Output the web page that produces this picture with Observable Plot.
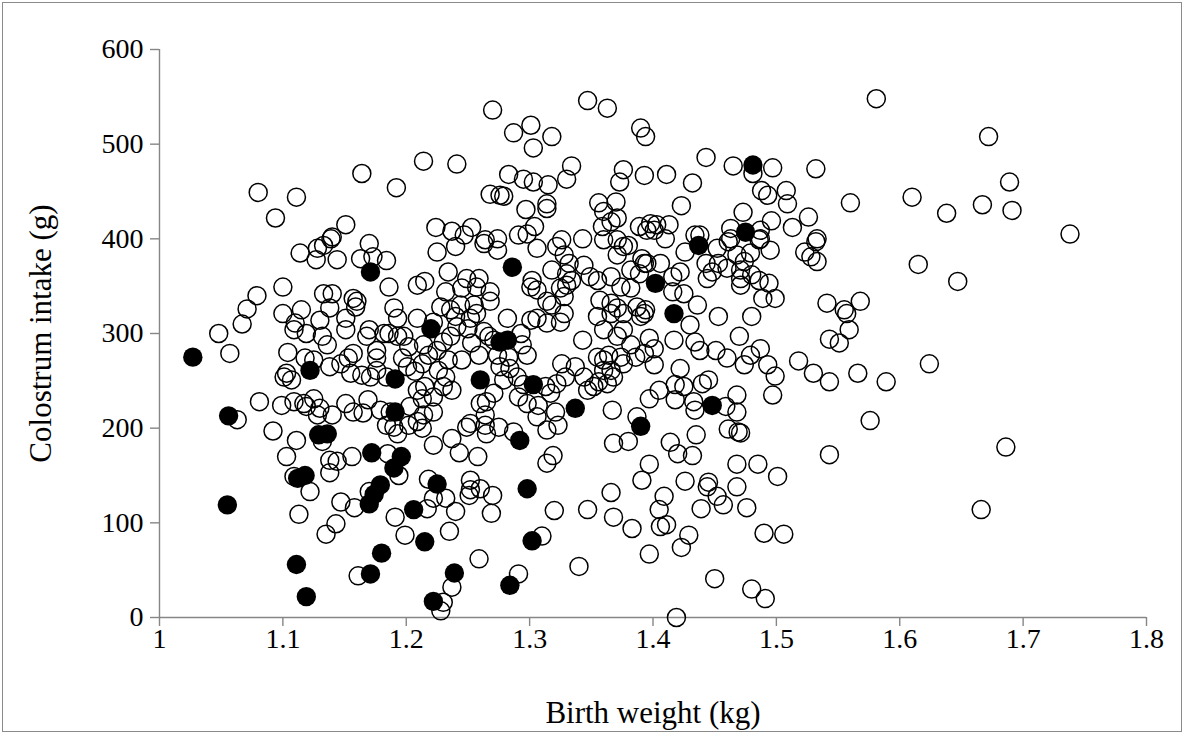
<!DOCTYPE html>
<html><head><meta charset="utf-8">
<script src="https://cdn.jsdelivr.net/npm/d3@7"></script>
<script src="https://cdn.jsdelivr.net/npm/@observablehq/plot@0.6"></script>
<style>
body{margin:0;background:#fff;}
#wrap{position:relative;width:1186px;height:736px;}
#border{position:absolute;left:2px;top:2px;width:1180px;height:730px;border:1px solid #8a8a8a;pointer-events:none;box-sizing:border-box;}
</style></head><body><div id="wrap"><div id="border"></div></div>
<script>
// Open circles: birth weight (kg) and colostrum intake (g)
const openWeight = [
1.080,1.111,1.164,1.192,1.094,1.151,1.140,
1.270,1.347,1.363,1.390,1.394,1.301,1.287,1.318,1.303,1.214,1.241,1.283,1.295,1.303,1.315,1.330,1.334,1.268,1.276,1.279,1.297,1.314,1.314,1.304,1.224,1.237,1.253,1.247,1.264,1.274,1.291,1.298,1.326,1.343,1.376,1.373,1.393,1.356,1.370,1.360,1.371,1.366,1.359,1.389,1.395,1.371,
1.581,1.443,1.465,1.481,1.497,1.532,1.411,1.432,1.488,1.493,1.508,1.509,1.560,1.423,1.473,1.526,1.496,1.513,1.463,1.487,1.533,1.398,1.403,1.413,1.401,1.434,1.438,1.463,1.487,
1.672,1.689,1.610,1.638,1.667,1.691,1.738,
1.615,1.647,1.624,
1.686,1.666,
1.543,1.576,1.435,1.414,1.420,1.432,1.461,1.469,1.471,1.397,1.391,1.426,1.445,1.444,1.468,1.485,1.501,1.468,1.452,1.457,1.439,1.476,1.409,1.405,1.406,1.411,1.429,1.423,1.397,1.490,1.506,1.450,1.480,1.491,1.419,
1.368,1.380,1.366,1.368,1.383,1.347,1.320,1.340,1.310,1.291,1.314,1.319,1.314,1.323,1.287,1.275,1.265,1.264,1.249,1.237,1.222,1.243,1.258,1.213,1.202,1.193,1.194,1.218,1.222,1.232,1.217,1.191,1.240,1.252,1.252,1.251,1.260,1.270,1.269,1.199,1.235,1.259,1.237,1.230,1.228,
1.063,1.092,1.111,1.103,1.109,1.122,1.113,1.132,1.138,1.144,1.156,1.138,1.147,1.158,1.143,1.135,1.170,1.185,1.161,1.190,1.184,
1.048,1.057,1.067,1.071,1.079,1.100,1.100,1.081,1.104,1.114,1.128,1.133,1.139,1.127,1.144,1.163,1.170,1.173,1.184,1.186,1.190,1.115,1.110,1.109,1.119,1.130,1.133,1.140,1.138,1.132,1.136,1.151,1.151,1.157,1.160,1.159,1.170,1.168,1.176,1.186,1.193,1.182,1.103,1.101,1.107,1.125,1.118,1.138,1.147,1.155,1.157,1.153,1.164,1.171,1.176,1.184,1.176,1.099,1.109,1.117,1.125,1.119,1.130,1.140,1.151,1.157,1.165,1.169,1.179,1.187,1.128,
1.306,1.225,1.240,1.263,1.274,1.322,1.328,1.332,1.344,1.360,1.376,1.380,1.371,1.391,1.393,1.234,1.215,1.209,1.249,1.259,1.257,1.268,1.268,1.245,1.232,1.244,1.255,1.257,1.252,1.240,1.236,1.228,1.222,1.209,1.193,1.198,1.202,1.214,1.218,1.225,1.230,1.236,1.241,1.250,1.263,1.267,1.253,1.259,1.245,1.234,1.226,1.213,1.207,1.215,1.209,1.213,1.203,1.232,1.237,1.271,1.293,1.294,1.298,1.283,1.274,1.282,1.276,1.284,1.290,1.279,1.271,1.260,1.265,1.264,1.252,1.230,1.222,1.222,1.214,1.209,1.295,1.291,1.298,1.307,1.313,1.317,1.322,1.301,1.306,1.314,1.325,1.328,1.301,1.306,1.302,1.314,1.318,1.325,1.330,1.328,1.334,1.318,1.330,1.343,1.326,1.337,1.329,1.321,1.306,1.347,1.352,1.356,1.363,1.360,1.366,1.368,1.360,1.355,1.364,1.374,1.376,1.386,1.393,1.382,1.371,1.360,1.376,1.355,1.366,1.371,1.376,1.390,1.387,1.393,1.357,1.366,1.374,1.382,1.366,1.355,1.382,1.389,1.349,1.387,1.367,1.344,1.201,1.197,
1.532,1.523,1.528,1.533,1.410,1.426,1.452,1.461,1.468,1.479,1.486,1.495,1.474,1.453,1.443,1.448,1.460,1.471,1.471,1.471,1.480,1.486,1.494,1.489,1.499,1.444,1.422,1.395,1.416,1.425,1.436,1.394,1.430,1.453,1.480,1.470,1.397,1.417,1.401,1.434,1.438,1.451,1.460,1.479,1.487,1.474,1.493,1.499,1.497,1.518,1.530,1.543,1.566,1.589,1.541,1.555,1.568,1.559,1.543,1.551,1.557,1.422,1.401,1.405,1.397,1.418,1.425,1.440,1.445,1.418,1.433,1.434,1.459,1.468,1.468,1.406,1.416
];
const openIntake = [
449,444,469,454,422,415,402,
536,546,538,517,508,520,512,508,496,482,479,468,463,460,457,463,477,447,446,445,431,437,432,413,412,408,412,404,399,400,404,405,399,400,473,460,467,438,439,429,422,418,413,413,409,399,
548,486,477,469,475,474,468,459,451,446,451,437,438,435,428,423,419,412,411,409,400,416,415,415,409,404,404,400,400,
508,460,444,427,436,430,405,
373,355,268,
180,114,
172,208,193,185,173,171,199,196,195,162,145,144,143,138,162,162,149,138,128,119,115,116,128,114,96,98,87,74,67,89,88,41,30,20,0,
184,186,132,106,94,114,113,54,86,46,163,171,198,203,196,201,194,203,201,189,182,174,170,200,203,194,150,146,126,126,115,106,112,145,135,129,136,129,110,87,91,62,32,16,7,
209,197,187,170,149,133,109,186,166,165,170,153,122,116,99,88,133,173,44,201,203,
300,279,310,326,340,349,321,228,280,385,390,393,400,378,378,379,395,381,377,349,327,325,311,304,300,314,342,342,327,297,288,316,304,337,334,328,304,297,282,300,297,300,258,254,251,272,274,265,268,258,279,274,256,254,261,254,274,224,228,226,231,223,221,214,226,217,216,230,219,217,214,
390,386,392,395,388,392,383,374,372,399,392,393,383,379,374,365,355,351,358,358,349,344,334,348,344,330,330,321,316,318,325,328,312,316,316,297,286,288,277,282,291,297,307,305,302,297,290,277,272,272,261,268,260,244,240,231,223,254,240,293,300,288,277,275,277,316,265,263,254,251,237,226,228,214,205,244,233,217,214,207,246,233,226,224,244,237,247,314,316,311,312,321,349,346,356,334,330,348,351,339,356,367,363,293,268,265,254,217,212,240,244,249,247,261,261,254,272,275,277,275,268,275,279,288,297,304,304,318,321,327,321,318,328,321,335,332,349,348,360,356,367,363,360,212,219,254,265,274,
397,386,381,376,400,386,390,397,383,385,399,388,376,374,374,365,369,367,358,351,362,356,353,337,337,358,365,374,344,342,330,325,309,318,318,297,295,293,284,291,282,282,274,277,284,267,267,255,235,271,258,249,258,249,332,325,334,304,294,290,321,263,267,240,231,246,244,247,251,230,228,219,223,235,217,374,360
];
// Filled circles
const filledWeight = [1.027,1.056,1.055,1.111,1.119,1.112,1.118,1.129,1.136,1.122,1.171,1.172,1.179,1.174,1.170,1.180,1.171,1.191,1.191,1.196,1.190,1.206,1.215,1.222,1.225,1.239,1.220,1.260,1.276,1.282,1.286,1.292,1.298,1.302,1.284,1.303,1.337,1.390,1.402,1.417,1.437,1.448,1.475,1.481];
const filledIntake = [275,213,119,56,22,147,150,193,194,261,365,174,140,130,120,68,46,252,217,170,158,114,80,17,141,47,305,251,291,293,370,187,136,81,34,246,221,202,353,321,393,224,407,478];

const xTicks = [1, 1.1, 1.2, 1.3, 1.4, 1.5, 1.6, 1.7, 1.8];
const xTickLabels = ["1", "1.1", "1.2", "1.3", "1.4", "1.5", "1.6", "1.7", "1.8"];
const yTicks = [0, 100, 200, 300, 400, 500, 600];
const xTitle = "Birth weight (kg)";
const yTitle = "Colostrum intake (g)";

const openData = openWeight.map((w, i) => ({w, c: openIntake[i]}));
const filledData = filledWeight.map((w, i) => ({w, c: filledIntake[i]}));
const axisGray = "#868686";

const chart = Plot.plot({
  width: 1186, height: 736,
  marginLeft: 159, marginRight: 40, marginTop: 49, marginBottom: 119,
  style: {fontFamily: "'Liberation Serif','Times New Roman',serif", fontSize: "28px", background: "transparent", color: "#000"},
  x: {domain: [1, 1.8]},
  y: {domain: [0, 600]},
  marks: [
    Plot.ruleY([0], {stroke: axisGray, strokeWidth: 1.4}),
    Plot.ruleX([1], {stroke: axisGray, strokeWidth: 1.4}),
    Plot.axisX({ticks: xTicks, tickSize: 9, tickPadding: 2, stroke: axisGray, strokeWidth: 1.4, fill: "#000", label: null,
      tickFormat: d => xTickLabels[xTicks.findIndex(t => Math.abs(t - d) < 1e-9)]}),
    Plot.axisY({ticks: yTicks, tickSize: 9, tickPadding: 7, stroke: axisGray, strokeWidth: 1.4, fill: "#000", label: null,
      tickFormat: d => String(d)}),
    Plot.dot(openData, {x: "w", y: "c", r: 9, stroke: "#000", strokeWidth: 1.5, fill: "none"}),
    Plot.dot(filledData, {x: "w", y: "c", r: 9.7, fill: "#000", stroke: "none"}),
    Plot.text([xTitle], {frameAnchor: "bottom", dy: 105, text: d => d, fill: "#000", fontSize: 31, textAnchor: "middle"}),
    Plot.text([yTitle], {frameAnchor: "left", dx: -118, rotate: -90, text: d => d, fill: "#000", fontSize: 31, textAnchor: "middle"})
  ]
});
document.getElementById("wrap").prepend(chart);
</script>
</body></html>
